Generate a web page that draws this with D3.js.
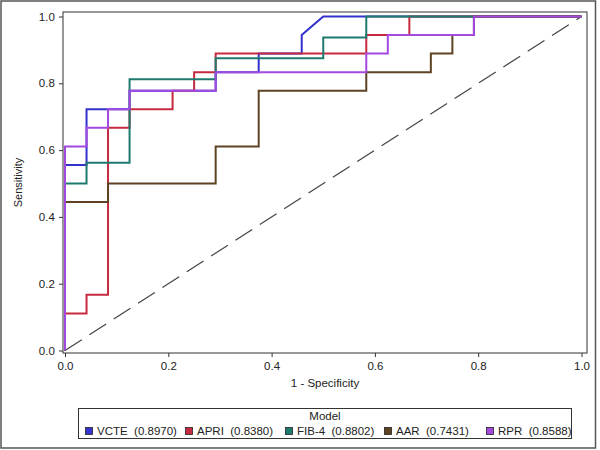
<!DOCTYPE html>
<html>
<head>
<meta charset="utf-8">
<script src="https://cdn.jsdelivr.net/npm/d3@7"></script>
<style>
  html, body { margin: 0; padding: 0; background: #fff; }
  svg { display: block; }
  text { font-family: "Liberation Sans", Arial, sans-serif; fill: #222; }
</style>
</head>
<body>
<svg id="chart" width="600" height="450"></svg>
<script>
// ---- data ----
const models = ["VCTE", "APRI", "FIB-4", "AAR", "RPR"];
const aucs = ["0.8970", "0.8380", "0.8802", "0.7431", "0.8588"];
const colors = ["#3232CC", "#C62A40", "#1F7A6E", "#5E4322", "#A349E0"];

const vcteFpr = [0, 0, 0.0417, 0.0417, 0.125, 0.125, 0.2917, 0.2917, 0.375, 0.375, 0.4583, 0.4583, 0.5, 1];
const vcteTpr = [0, 0.5556, 0.5556, 0.7222, 0.7222, 0.7778, 0.7778, 0.8333, 0.8333, 0.8889, 0.8889, 0.9444, 1, 1];

const apriFpr = [0, 0, 0.0417, 0.0417, 0.0833, 0.0833, 0.125, 0.125, 0.2083, 0.2083, 0.25, 0.25, 0.2917, 0.2917, 0.5833, 0.5833, 0.6667, 0.6667, 1];
const apriTpr = [0, 0.1111, 0.1111, 0.1667, 0.1667, 0.6667, 0.6667, 0.7222, 0.7222, 0.7778, 0.7778, 0.8333, 0.8333, 0.8889, 0.8889, 0.9444, 0.9444, 1, 1];

const fib4Fpr = [0, 0, 0.0417, 0.0417, 0.125, 0.125, 0.2917, 0.2917, 0.5, 0.5, 0.5833, 0.5833, 1];
const fib4Tpr = [0, 0.5, 0.5, 0.5625, 0.5625, 0.8125, 0.8125, 0.875, 0.875, 0.9375, 0.9375, 1, 1];

const aarFpr = [0, 0, 0.0833, 0.0833, 0.2917, 0.2917, 0.375, 0.375, 0.5833, 0.5833, 0.7083, 0.7083, 0.75, 0.75, 0.7917, 0.7917, 1];
const aarTpr = [0, 0.4444, 0.4444, 0.5, 0.5, 0.6111, 0.6111, 0.7778, 0.7778, 0.8333, 0.8333, 0.8889, 0.8889, 0.9444, 0.9444, 1, 1];

const rprFpr = [0, 0, 0.0417, 0.0417, 0.0833, 0.0833, 0.125, 0.125, 0.2917, 0.2917, 0.5833, 0.5833, 0.625, 0.625, 0.7917, 0.7917, 1];
const rprTpr = [0, 0.6111, 0.6111, 0.6667, 0.6667, 0.7222, 0.7222, 0.7778, 0.7778, 0.8333, 0.8333, 0.8889, 0.8889, 0.9444, 0.9444, 1, 1];

const xTicks = [0, 0.2, 0.4, 0.6, 0.8, 1.0];
const yTicks = [0, 0.2, 0.4, 0.6, 0.8, 1.0];
const xLabel = "1 - Specificity";
const yLabel = "Sensitivity";
const legendTitle = "Model";

const curves = [
  [vcteFpr, vcteTpr], [apriFpr, apriTpr], [fib4Fpr, fib4Tpr], [aarFpr, aarTpr], [rprFpr, rprTpr]
];

// ---- layout ----
const svg = d3.select("#chart");
const box = { left: 63, top: 12, right: 587, bottom: 353 };
const x = d3.scaleLinear().domain([0, 1]).range([65, 581.5]);
const y = d3.scaleLinear().domain([0, 1]).range([350.5, 16.5]);

// outer frame
svg.append("rect").attr("x", 1).attr("y", 1).attr("width", 594.5).attr("height", 447)
  .attr("fill", "#fff").attr("stroke", "#555").attr("stroke-width", 1.5);

// plot box
svg.append("rect").attr("x", box.left).attr("y", box.top)
  .attr("width", box.right - box.left).attr("height", box.bottom - box.top)
  .attr("fill", "none").attr("stroke", "#333").attr("stroke-width", 1);

// axes
const xAxis = d3.axisBottom(x).tickValues(xTicks).tickFormat(d3.format(".1f")).tickSize(4).tickSizeOuter(0);
const gx = svg.append("g").attr("transform", `translate(0,${box.bottom})`).call(xAxis);
gx.select(".domain").remove();
gx.selectAll("line").attr("stroke", "#333");
gx.selectAll("text").attr("font-size", 11.5).attr("fill", "#222").attr("dy", "0.9em")
  .attr("font-family", "Liberation Sans, Arial, sans-serif");

const yAxis = d3.axisLeft(y).tickValues(yTicks).tickFormat(d3.format(".1f")).tickSize(4).tickSizeOuter(0);
const gy = svg.append("g").attr("transform", `translate(${box.left},0)`).call(yAxis);
gy.select(".domain").remove();
gy.selectAll("line").attr("stroke", "#333");
gy.selectAll("text").attr("font-size", 11.5).attr("fill", "#222").attr("dx", "-0.1em")
  .attr("font-family", "Liberation Sans, Arial, sans-serif");

// axis labels
svg.append("text").attr("x", (box.left + box.right) / 2).attr("y", 387)
  .attr("text-anchor", "middle").attr("font-size", 11.5).text(xLabel);
svg.append("text").attr("transform", `translate(22,${(box.top + box.bottom) / 2}) rotate(-90)`)
  .attr("text-anchor", "middle").attr("font-size", 11).text(yLabel);

// diagonal reference
svg.append("line")
  .attr("x1", x(0)).attr("y1", y(0)).attr("x2", x(1)).attr("y2", y(1))
  .attr("stroke", "#444").attr("stroke-width", 1.2).attr("stroke-dasharray", "20,9");

// curves
const line = d3.line().x(d => x(d[0])).y(d => y(d[1]));
curves.forEach((c, i) => {
  const pts = c[0].map((f, j) => [f, c[1][j]]);
  svg.append("path").datum(pts).attr("d", line)
    .attr("fill", "none").attr("stroke", colors[i]).attr("stroke-width", 2)
    .attr("stroke-linejoin", "miter");
});

// legend
const leg = svg.append("g");
leg.append("rect").attr("x", 78.5).attr("y", 408.5).attr("width", 493).attr("height", 30)
  .attr("fill", "#fff").attr("stroke", "#333").attr("stroke-width", 1);
leg.append("text").attr("x", 325).attr("y", 420).attr("text-anchor", "middle")
  .attr("font-size", 11.5).text(legendTitle);
const itemX = [85, 185, 285, 384, 486];
models.forEach((m, i) => {
  const g = leg.append("g").attr("transform", `translate(${itemX[i]},0)`);
  g.append("rect").attr("x", 0.5).attr("y", 427.5).attr("width", 7).attr("height", 7)
    .attr("fill", colors[i]).attr("stroke", "#222").attr("stroke-width", 0.8);
  g.append("text").attr("x", 12).attr("y", 435).attr("font-size", 11.5)
    .attr("xml:space", "preserve").text(`${m}  (${aucs[i]})`);
});
</script>
</body>
</html>
